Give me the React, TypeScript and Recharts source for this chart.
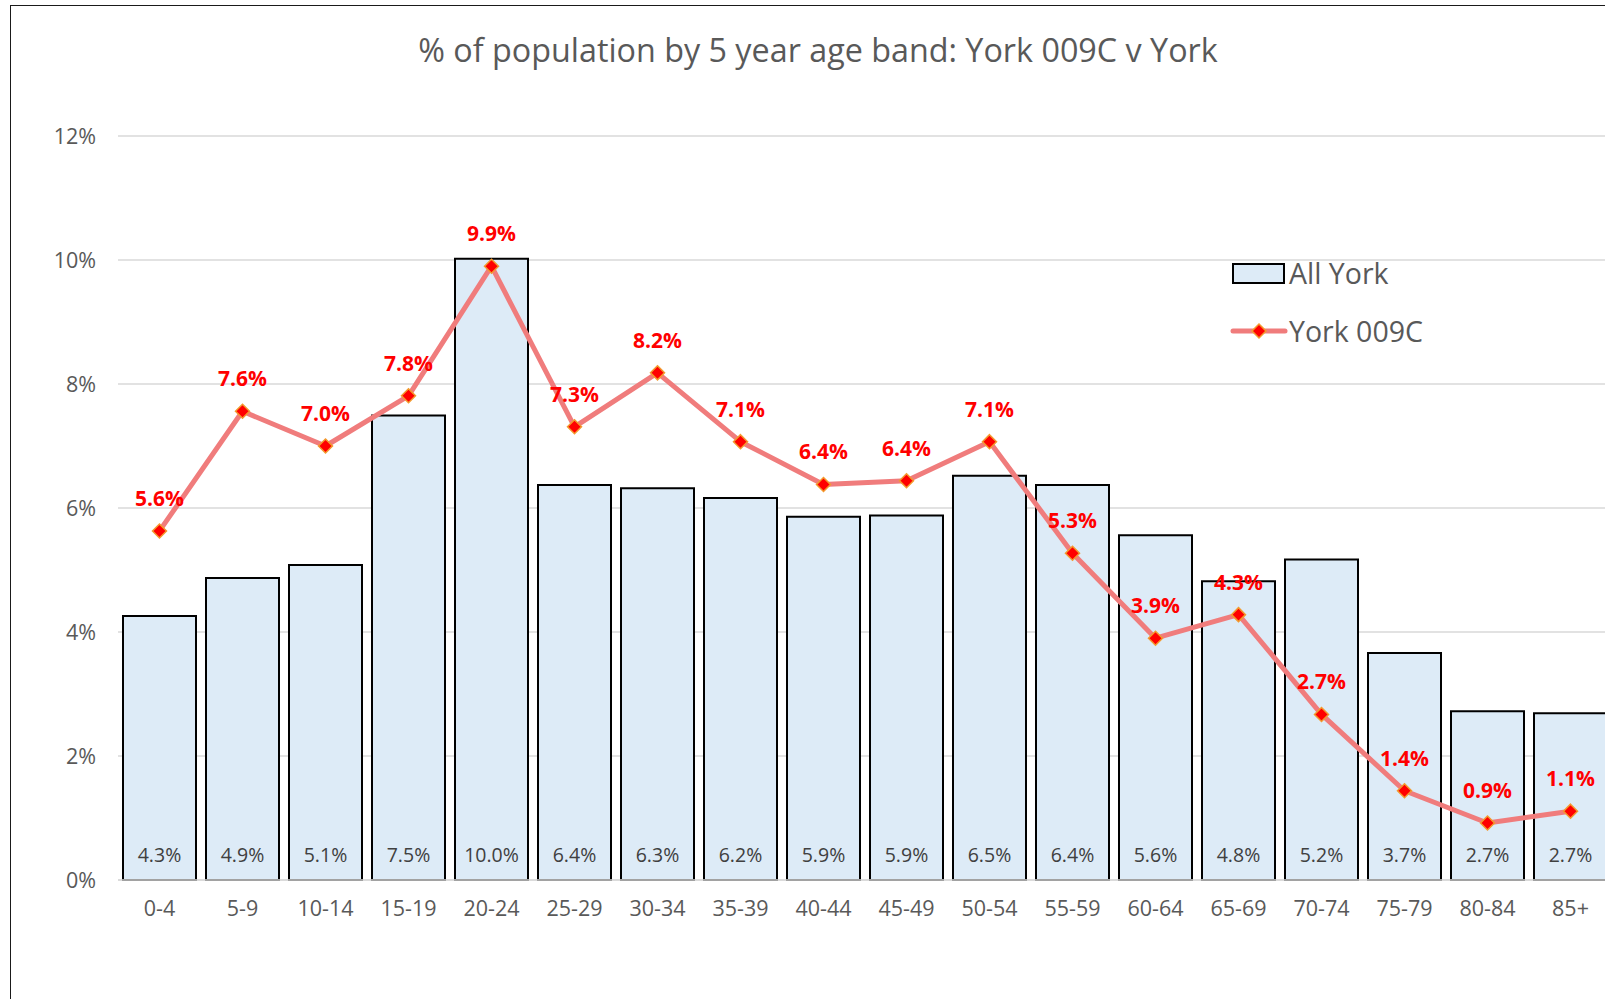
import React from 'react';
import { ComposedChart, Bar, Line, XAxis, YAxis, CartesianGrid, Legend } from 'recharts';

const categories = ['0-4', '5-9', '10-14', '15-19', '20-24', '25-29', '30-34', '35-39', '40-44', '45-49', '50-54', '55-59', '60-64', '65-69', '70-74', '75-79', '80-84', '85+'];
const allYork = [4.26, 4.87, 5.08, 7.49, 10.02, 6.37, 6.32, 6.16, 5.86, 5.88, 6.52, 6.37, 5.56, 4.82, 5.17, 3.66, 2.72, 2.69];
const york009C = [5.63, 7.56, 7.0, 7.81, 9.9, 7.31, 8.18, 7.07, 6.38, 6.44, 7.07, 5.27, 3.9, 4.28, 2.67, 1.44, 0.92, 1.11];
const yTicks = [0, 2, 4, 6, 8, 10, 12];

const data = categories.map((c, i) => ({ band: c, allYork: allYork[i], york009C: york009C[i] }));

const FONT = '"Open Sans", "DejaVu Sans", sans-serif';
const BAR_FILL = '#DDEBF7';
const LINE_COLOR = '#F07C7C';
const MARK_FILL = '#FF0000';
const MARK_STROKE = '#F39A2E';

const fmt = (v: number) => `${v.toFixed(1)}%`;

const Diamond = (props: any) => {
  const { cx, cy, index } = props;
  if (cx == null || cy == null) return null;
  const r = 7;
  return (
    <polygon
      key={`d-${index}`}
      points={`${cx},${cy - r} ${cx + r},${cy} ${cx},${cy + r} ${cx - r},${cy}`}
      fill={MARK_FILL}
      stroke={MARK_STROKE}
      strokeWidth={1.5}
    />
  );
};

const LineLabel = (props: any) => {
  const { x, y, value, index } = props;
  return (
    <text key={`ll-${index}`} x={x} y={y - 33} textAnchor="middle" dominantBaseline="central"
      fill="#FF0000" fontSize={21} fontWeight="bold" fontFamily={FONT}>
      {fmt(value)}
    </text>
  );
};

const BarLabel = (props: any) => {
  const { x, y, width, height, value, index } = props;
  return (
    <text key={`bl-${index}`} x={x + width / 2} y={y + height - 26} textAnchor="middle" dominantBaseline="central"
      fill="#404040" fontSize={19.5} fontFamily={FONT}>
      {fmt(value)}
    </text>
  );
};

const LegendContent = () => (
  <div style={{ fontFamily: FONT, fontSize: 28.5, color: '#595959', lineHeight: 1 }}>
    <div style={{ display: 'flex', alignItems: 'center', height: 40 }}>
      <div style={{ width: 49, height: 17, background: BAR_FILL, border: '2px solid #000', marginLeft: 4 }} />
      <span style={{ marginLeft: 4 }}>All York</span>
    </div>
    <div style={{ display: 'flex', alignItems: 'center', height: 40, marginTop: 18 }}>
      <svg width={58} height={20} style={{ marginLeft: 2 }}>
        <line x1={3} y1={10} x2={55} y2={10} stroke={LINE_COLOR} strokeWidth={5} strokeLinecap="round" />
        <polygon points="29,3 36,10 29,17 22,10" fill={MARK_FILL} stroke={MARK_STROKE} strokeWidth={1.5} />
      </svg>
      <span style={{ marginLeft: 1 }}>York 009C</span>
    </div>
  </div>
);

export default function App() {
  return (
    <div style={{ position: 'absolute', left: 0, top: 0, width: 1605, height: 999, overflow: 'hidden', background: '#fff' }}>
      <div style={{ position: 'absolute', left: 10, top: 5, width: 1700, height: 1100, borderLeft: '1.5px solid #1a1a1a', borderTop: '1.5px solid #1a1a1a' }} />
      <div style={{ position: 'absolute', left: 0, top: 0 }}>
        <ComposedChart width={1700} height={999} data={data} margin={{ top: 136, right: 88, left: 0, bottom: 59 }} barCategoryGap={5}>
          <CartesianGrid vertical={false} stroke="#D9D9D9" strokeWidth={1.5} />
          <XAxis dataKey="band" height={60} tickLine={false} axisLine={{ stroke: '#D9D9D9', strokeWidth: 1.5 }}
            tickSize={0} tickMargin={21} interval={0}
            tick={{ fill: '#595959', fontSize: 21.5, fontFamily: FONT }} />
          <YAxis width={118} domain={[0, 12]} ticks={yTicks} tickFormatter={(v: number) => `${v}%`}
            tickLine={false} axisLine={false} tickSize={0} tickMargin={22}
            tick={{ fill: '#595959', fontSize: 21.5, fontFamily: FONT }} />
          <Legend layout="horizontal" verticalAlign="middle" align="center" content={<LegendContent />}
            wrapperStyle={{ position: 'absolute', left: 1228, top: 253, width: 320, height: 120 }} />
          <Bar dataKey="allYork" name="All York" fill={BAR_FILL} stroke="#000" strokeWidth={2}
            isAnimationActive={false} label={BarLabel} />
          <Line dataKey="york009C" name="York 009C" stroke={LINE_COLOR} strokeWidth={5}
            strokeLinecap="round" strokeLinejoin="round" dot={Diamond} activeDot={false}
            isAnimationActive={false} label={LineLabel} />
        </ComposedChart>
      </div>
      <div style={{ position: 'absolute', left: 0, width: 1636, top: 28, textAlign: 'center', fontFamily: FONT, fontSize: 32.3, color: '#595959', whiteSpace: 'nowrap', lineHeight: '42px' }}>
        % of population by 5 year age band: York 009C v York
      </div>
    </div>
  );
}
